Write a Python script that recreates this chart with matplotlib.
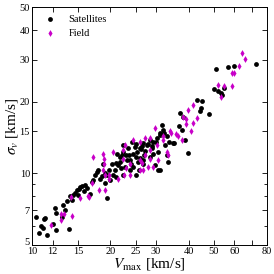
import matplotlib
matplotlib.use("Agg")
import matplotlib.pyplot as plt
import matplotlib.transforms as mtransforms
from matplotlib.ticker import FixedLocator, NullFormatter, FixedFormatter

plt.rcParams['font.family'] = ['Liberation Serif', 'DejaVu Serif']
plt.rcParams['mathtext.fontset'] = 'stix'

# Satellites (black circles): Vmax [km/s], sigma_v [km/s]
sat_vmax = [10.4, 10.6, 10.8, 11.0, 11.1, 11.2, 11.4, 12.2, 12.4, 12.4, 13.05, 13.2, 13.4, 13.9,
            13.6, 14.0, 14.25, 14.4, 14.6, 14.9, 15.3, 15.6, 15.85, 16.0, 16.3, 16.7, 15.0, 17.2,
            17.5, 17.8, 18.0, 18.2, 18.5, 18.75, 19.1, 19.4, 19.4, 19.8, 20.0, 20.5, 20.85, 21.0,
            21.2, 21.8, 21.8, 22.2, 22.4, 22.4, 22.8, 22.4, 23.2, 23.4, 23.8, 23.8, 24.3, 24.5,
            24.5, 25.0, 25.0, 25.4, 25.6, 25.8, 26.0, 26.0, 26.5, 26.7, 26.7, 26.7, 27.7, 28.4,
            28.4, 29.2, 29.2, 30.2, 30.4, 30.4, 31.0, 31.5, 31.9, 31.0, 32.2, 29.7, 31.0, 32.5,
            33.1, 33.1, 33.4, 33.7, 34.9, 35.2, 37.1, 36.8, 38.1, 37.8, 38.8, 39.8, 43.0, 45.0,
            44.6, 44.2, 47.9, 50.2, 52.0, 53.5, 53.9, 54.9, 51.1, 56.6, 59.9, 72.6,
            20.3, 23.0, 27.2, 29.0, 24.0, 21.5, 26.2, 28.8, 22.0, 25.2,
            23.6, 24.8, 27.0, 28.0, 30.0, 21.0, 19.0, 17.0, 15.2, 12.0]
sat_sigma = [6.55, 5.6, 6.0, 5.9, 6.4, 6.5, 5.5, 7.15, 6.8, 5.78, 6.55, 7.36, 7.0, 5.85,
             7.65, 8.05, 7.73, 8.1, 8.3, 8.5, 8.76, 8.85, 8.45, 8.94, 8.7, 8.2, 8.1, 9.38,
             9.86, 10.1, 10.35, 9.45, 9.75, 10.9, 9.1, 9.86, 7.9, 10.35, 9.38, 9.86, 10.35, 9.7,
             12.1, 11.2, 11.7, 11.9, 12.3, 13.1, 10.65, 9.86, 11.4, 12.8, 10.35, 11.4, 13.6, 12.1,
             10.65, 11.7, 9.86, 12.3, 11.2, 10.35, 12.8, 11.6, 13.0, 13.4, 11.4, 10.9, 13.1, 13.8,
             11.7, 13.6, 12.1, 14.1, 12.3, 10.35, 14.5, 16.0, 15.2, 14.8, 14.8, 10.8, 10.35, 13.1,
             14.3, 12.0, 11.2, 13.6, 13.4, 13.4, 17.9, 15.8, 17.2, 15.2, 13.8, 12.15, 20.4, 20.2,
             18.9, 18.3, 17.8, 22.7, 22.2, 21.8, 21.4, 22.9, 27.5, 28.0, 28.3, 28.9,
             11.0, 12.0, 12.4, 13.0, 11.0, 10.8, 12.6, 12.8, 10.5, 13.3,
             12.0, 12.9, 12.0, 13.3, 13.5, 11.1, 10.0, 9.2, 8.6, 6.1]

# Field (magenta diamonds)
fld_vmax = [11.8, 12.9, 13.3, 12.9, 14.25, 14.1, 15.3, 16.6, 17.0, 18.1, 17.2, 18.75, 18.9,
            19.1, 19.1, 19.8, 20.5, 19.8, 21.4, 22.6, 23.0, 22.4, 23.8, 22.4, 22.8, 24.5, 26.0,
            27.2, 28.4, 29.7, 30.2, 31.9, 28.4, 27.2, 26.0, 26.7, 27.9, 29.2, 30.4, 33.1, 23.8,
            26.0, 26.5, 28.4, 33.4, 31.9, 34.0, 35.8, 36.5, 37.8, 34.3, 38.1, 39.1, 39.1, 39.8,
            41.6, 40.8, 43.0, 41.6, 52.0, 54.9, 53.5, 59.0, 59.0, 59.9, 62.4, 64.0, 65.7, 18.8,
            18.9, 16.4]
fld_sigma = [6.07, 6.75, 6.75, 6.37, 6.65, 7.96, 7.9, 7.96, 9.1, 8.5, 11.7, 12.1, 10.9,
             9.86, 8.5, 9.45, 12.3, 9.86, 9.45, 9.86, 10.5, 11.5, 10.9, 12.5, 13.1, 13.8, 13.6,
             14.1, 14.1, 15.5, 13.1, 13.8, 12.5, 11.9, 11.4, 10.35, 10.65, 10.65, 11.4, 12.3, 9.86,
             10.35, 11.1, 11.5, 12.0, 14.4, 15.0, 14.7, 14.4, 13.8, 14.8, 17.2, 16.9, 16.1, 18.5,
             16.3, 15.0, 17.1, 19.3, 23.6, 23.2, 21.0, 23.2, 26.5, 26.5, 28.3, 32.1, 30.3, 10.35,
             11.5, 8.0]

x_ticks = [10, 12, 15, 20, 25, 30, 40, 50, 60, 70, 80]
x_labels = ['10', '12', '15', '20', '25', '30', '40', '50', '60', '', '80']
y_ticks = [5, 7, 10, 15, 20, 30, 40, 50]
y_labels = ['5', '7', '10', '15', '20', '30', '40', '50']
y_minor = [6, 8, 9]

fig = plt.figure(figsize=(2.74, 2.74), dpi=100)
ax = fig.add_axes([0.117, 0.106, 0.857, 0.868])

ax.scatter(sat_vmax, sat_sigma, s=12, c='black', marker='o', linewidths=0, label='Satellites', zorder=3)
ax.scatter(fld_vmax, fld_sigma, s=12, c='#c800c8', marker='d', linewidths=0, label='Field', zorder=3)

ax.set_xscale('log')
ax.set_yscale('log')
ax.set_xlim(10, 80)
ax.set_ylim(5, 50)

ax.xaxis.set_major_locator(FixedLocator(x_ticks))
ax.xaxis.set_major_formatter(FixedFormatter(x_labels))
ax.xaxis.set_minor_locator(FixedLocator([]))
ax.xaxis.set_minor_formatter(NullFormatter())
ax.yaxis.set_major_locator(FixedLocator(y_ticks))
ax.yaxis.set_major_formatter(FixedFormatter(y_labels))
ax.yaxis.set_minor_locator(FixedLocator(y_minor))
ax.yaxis.set_minor_formatter(NullFormatter())

ax.tick_params(which='both', direction='in', top=True, right=True, labelsize=7.5, pad=1.5)
ax.tick_params(which='major', length=3.5, width=0.6)
ax.tick_params(which='minor', length=2, width=0.6)
for sp in ax.spines.values():
    sp.set_linewidth(0.7)

# raise the bottom "5" label slightly so it sits above the "10" of the x axis
fig.canvas.draw()
ylab0 = ax.yaxis.get_majorticklabels()[0]
ylab0.set_transform(ylab0.get_transform() + mtransforms.ScaledTranslation(0, 3/100, fig.dpi_scale_trans))

ax.set_xlabel(r'$V_{\rm max}$ [km/s]', fontsize=11, labelpad=0)
ax.set_ylabel(r'$\sigma_v$ [km/s]', fontsize=11, labelpad=0)

ax.legend(loc='upper left', frameon=False, fontsize=7.5, handletextpad=0.8,
          borderaxespad=0.3, labelspacing=0.5, markerscale=1.0, borderpad=0.4)

fig.savefig('out.png', dpi=100)
